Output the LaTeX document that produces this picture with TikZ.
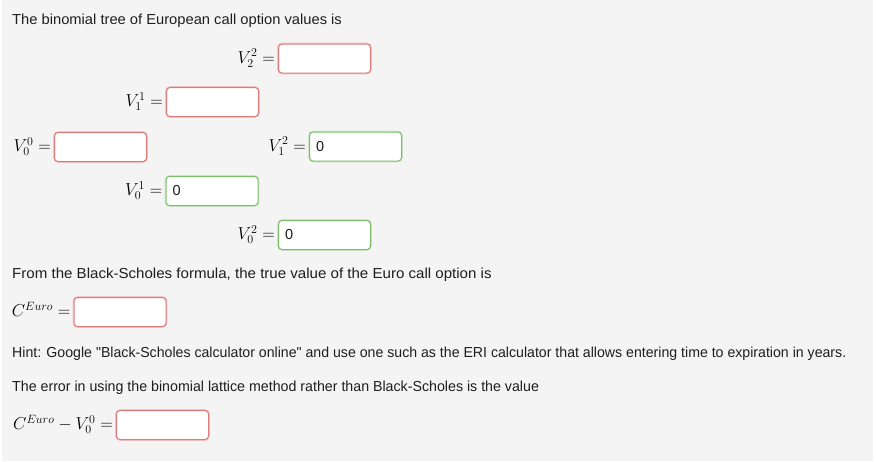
\documentclass[tikz,border=0pt]{standalone}
\usepackage[no-math]{fontspec}
\usepackage{graphicx}
\setmainfont{Liberation Sans}[Ligatures=TeXOff]
\definecolor{bg}{HTML}{F4F4F4}
\definecolor{redb}{HTML}{DB7C7A}
\definecolor{redg}{HTML}{F2C4C3}
\definecolor{grnb}{HTML}{7DBE6E}
\definecolor{grng}{HTML}{CDE7C6}
\definecolor{txtc}{HTML}{1E1E1E}
\newcommand{\txtfont}{\fontsize{14.5}{17}\selectfont}
\newcommand{\mfont}{\fontsize{17.5}{20}\selectfont}
\tikzset{
  txt/.style={font=\txtfont, text=txtc, inner sep=0pt, anchor=base west},
  lab/.style={font=\mfont, text=black, inner sep=0pt, anchor=base east},
  ansbox/.style={minimum width=92pt, minimum height=29pt, inner sep=0pt, rounded corners=3.5pt, fill=white, line width=1pt},
  redbox/.style={ansbox, draw=redb, preaction={draw=redg, line width=2.6pt}},
  grnbox/.style={ansbox, draw=grnb, preaction={draw=grng, line width=2.6pt}},
  val/.style={font=\txtfont, text=txtc, inner sep=0pt, anchor=west}
}
\begin{document}
\begin{tikzpicture}[x=1pt,y=-1pt]
\useasboundingbox (0,0) rectangle (876,461);
\fill[white] (0,0) rectangle (876,461);
\fill[bg] (2,0) rectangle (873,461);

\node[txt] (t1) at (12,24) {\scalebox{1.015}[1]{The binomial tree of European call option values is}};

\node[redbox] (b22) at (324.5,58.5) {};
\node[lab] (l22) at ([xshift=-3pt,yshift=-4.5pt]b22.west) {$V_2^2 =$};

\node[redbox] (b11) at (212.5,102) {};
\node[lab] (l11) at ([xshift=-3pt,yshift=-4.5pt]b11.west) {$V_1^1 =$};

\node[redbox] (b00) at (100.5,147) {};
\node[lab] (l00) at ([xshift=-3pt,yshift=-4.5pt]b00.west) {$V_0^0 =$};

\node[grnbox] (b12) at (355.5,146.5) {};
\node[lab] (l12) at ([xshift=-3pt,yshift=-4.5pt]b12.west) {$V_1^2 =$};
\node[val] (v12) at ([xshift=7pt]b12.west) {0};

\node[grnbox] (b01) at (212,191) {};
\node[lab] (l01) at ([xshift=-3pt,yshift=-4.5pt]b01.west) {$V_0^1 =$};
\node[val] (v01) at ([xshift=7pt]b01.west) {0};

\node[grnbox] (b02) at (324.5,235) {};
\node[lab] (l02) at ([xshift=-3pt,yshift=-4.5pt]b02.west) {$V_0^2 =$};
\node[val] (v02) at ([xshift=7pt]b02.west) {0};

\node[txt] (t2) at (12,278) {\scalebox{1.04}[1]{From the Black-Scholes formula, the true value of the Euro call option is}};

\node[redbox] (bc) at (120,312) {};
\node[lab] (lc) at ([xshift=-3pt,yshift=-4.5pt]bc.west) {$C^{Euro} =$};

\node[txt] (t3) at (12,357) {\scalebox{0.975}[1]{Hint: Google "Black-Scholes calculator online" and use one such as the ERI calculator that allows entering time to expiration in years.}};

\node[txt] (t4) at (12,391) {\scalebox{0.98}[1]{The error in using the binomial lattice method rather than Black-Scholes is the value}};

\node[redbox] (be) at (162.5,425) {};
\node[lab] (le) at ([xshift=-3pt,yshift=-4.5pt]be.west) {$C^{Euro} - V_0^0 =$};
\end{tikzpicture}
\end{document}
